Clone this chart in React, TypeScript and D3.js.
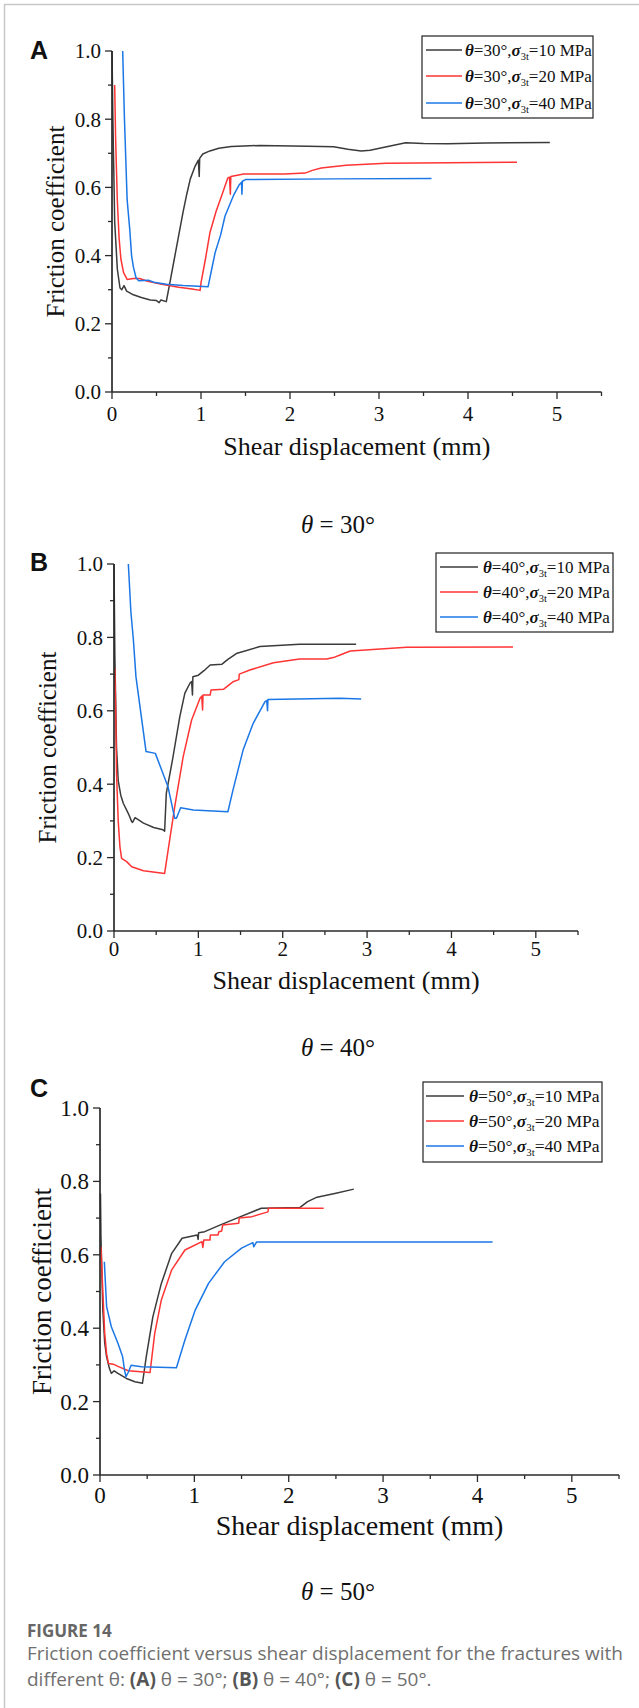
import React from "react";
import * as d3 from "d3";

type Pt = [number, number];

// panel angles, confining stresses, series colours
const angles = [30, 40, 50];
const pressures = [10, 20, 40];
const colors = ["#3b3b3b", "#ff3434", "#1b77e6"];
const panelLetters = ["A", "B", "C"];
const xTicks = [0, 1, 2, 3, 4, 5];
const yTicks = [0, 0.2, 0.4, 0.6, 0.8, 1.0];

// theta = 30
const a30_10: Pt[] = [[0, 1.0], [0.01, 0.8], [0.03, 0.5], [0.06, 0.36], [0.09, 0.305], [0.11, 0.3], [0.135, 0.312], [0.165, 0.296], [0.24, 0.285], [0.33, 0.277], [0.43, 0.27], [0.5, 0.268], [0.53, 0.262], [0.55, 0.27], [0.61, 0.265], [0.65, 0.32], [0.7, 0.39], [0.75, 0.46], [0.8, 0.53], [0.84, 0.58], [0.88, 0.625], [0.93, 0.66], [0.97, 0.68], [0.98, 0.632], [0.985, 0.685], [1.02, 0.698], [1.1, 0.707], [1.2, 0.715], [1.34, 0.72], [1.66, 0.723], [2.2, 0.721], [2.49, 0.719], [2.65, 0.712], [2.8, 0.707], [2.9, 0.709], [3.1, 0.72], [3.3, 0.731], [3.5, 0.729], [3.77, 0.728], [4.2, 0.73], [4.92, 0.732]];
const a30_20: Pt[] = [[0.03, 0.9], [0.04, 0.75], [0.06, 0.56], [0.08, 0.45], [0.1, 0.39], [0.13, 0.35], [0.17, 0.33], [0.24, 0.333], [0.31, 0.333], [0.4, 0.325], [0.56, 0.316], [0.75, 0.307], [0.9, 0.302], [0.99, 0.298], [1.0, 0.32], [1.05, 0.39], [1.1, 0.467], [1.17, 0.53], [1.23, 0.574], [1.3, 0.627], [1.32, 0.63], [1.33, 0.58], [1.335, 0.632], [1.48, 0.639], [1.94, 0.639], [2.17, 0.642], [2.25, 0.65], [2.35, 0.657], [2.63, 0.665], [3.08, 0.671], [4.55, 0.674]];
const a30_40: Pt[] = [[0.12, 1.0], [0.14, 0.8], [0.17, 0.564], [0.2, 0.475], [0.22, 0.4], [0.24, 0.367], [0.27, 0.335], [0.3, 0.326], [0.41, 0.328], [0.47, 0.322], [0.61, 0.316], [0.8, 0.312], [1.08, 0.309], [1.12, 0.36], [1.16, 0.41], [1.22, 0.46], [1.27, 0.516], [1.37, 0.579], [1.43, 0.608], [1.455, 0.615], [1.46, 0.58], [1.465, 0.618], [1.5, 0.623], [2.5, 0.625], [3.59, 0.626]];

// theta = 40
const a40_10: Pt[] = [[0, 1.0], [0.01, 0.75], [0.03, 0.5], [0.05, 0.41], [0.08, 0.37], [0.11, 0.348], [0.17, 0.32], [0.21, 0.298], [0.22, 0.296], [0.25, 0.309], [0.35, 0.294], [0.47, 0.282], [0.58, 0.276], [0.6, 0.272], [0.62, 0.375], [0.7, 0.475], [0.78, 0.584], [0.84, 0.648], [0.9, 0.675], [0.92, 0.68], [0.93, 0.643], [0.935, 0.693], [1.0, 0.697], [1.07, 0.71], [1.14, 0.725], [1.28, 0.727], [1.35, 0.74], [1.45, 0.756], [1.73, 0.775], [2.2, 0.781], [2.87, 0.781]];
const a40_20: Pt[] = [[0.01, 0.715], [0.02, 0.6], [0.03, 0.43], [0.05, 0.3], [0.07, 0.23], [0.09, 0.198], [0.15, 0.189], [0.21, 0.175], [0.35, 0.164], [0.6, 0.157], [0.66, 0.248], [0.72, 0.339], [0.82, 0.475], [0.92, 0.575], [1.02, 0.634], [1.04, 0.64], [1.05, 0.602], [1.055, 0.643], [1.14, 0.643], [1.15, 0.657], [1.3, 0.659], [1.41, 0.679], [1.48, 0.685], [1.485, 0.7], [1.61, 0.711], [1.89, 0.731], [2.2, 0.741], [2.52, 0.741], [2.6, 0.745], [2.68, 0.752], [2.8, 0.763], [3.47, 0.773], [4.73, 0.774]];
const a40_40: Pt[] = [[0.17, 1.0], [0.2, 0.87], [0.23, 0.793], [0.26, 0.693], [0.38, 0.489], [0.49, 0.484], [0.64, 0.393], [0.72, 0.307], [0.74, 0.307], [0.79, 0.336], [0.94, 0.33], [1.35, 0.325], [1.41, 0.384], [1.53, 0.493], [1.65, 0.566], [1.79, 0.625], [1.81, 0.628], [1.82, 0.6], [1.825, 0.631], [2.68, 0.634], [2.93, 0.632]];

// theta = 50
const a50_10: Pt[] = [[0.005, 0.767], [0.01, 0.65], [0.03, 0.45], [0.05, 0.36], [0.07, 0.322], [0.1, 0.29], [0.12, 0.277], [0.15, 0.284], [0.19, 0.277], [0.28, 0.263], [0.37, 0.254], [0.45, 0.25], [0.49, 0.322], [0.56, 0.431], [0.65, 0.522], [0.76, 0.604], [0.87, 0.645], [1.03, 0.654], [1.04, 0.642], [1.045, 0.66], [1.11, 0.663], [1.27, 0.681], [1.47, 0.702], [1.71, 0.727], [2.12, 0.729], [2.2, 0.745], [2.3, 0.757], [2.5, 0.768], [2.69, 0.779]];
const a50_20: Pt[] = [[0.01, 0.622], [0.03, 0.5], [0.05, 0.386], [0.07, 0.33], [0.09, 0.304], [0.14, 0.302], [0.19, 0.296], [0.3, 0.284], [0.53, 0.279], [0.58, 0.386], [0.65, 0.477], [0.76, 0.559], [0.9, 0.613], [1.08, 0.636], [1.09, 0.62], [1.1, 0.64], [1.165, 0.64], [1.17, 0.654], [1.25, 0.654], [1.26, 0.663], [1.29, 0.665], [1.3, 0.681], [1.47, 0.686], [1.475, 0.7], [1.61, 0.704], [1.78, 0.717], [1.785, 0.727], [2.37, 0.727]];
const a50_40: Pt[] = [[0.046, 0.581], [0.07, 0.459], [0.12, 0.404], [0.19, 0.359], [0.24, 0.322], [0.26, 0.286], [0.275, 0.268], [0.3, 0.28], [0.33, 0.299], [0.44, 0.295], [0.81, 0.292], [0.9, 0.368], [1.01, 0.45], [1.15, 0.522], [1.32, 0.581], [1.5, 0.618], [1.62, 0.633], [1.63, 0.622], [1.66, 0.635], [4.16, 0.635]];

const panelSeries = [
  [a30_10, a30_20, a30_40],
  [a40_10, a40_20, a40_40],
  [a50_10, a50_20, a50_40],
];

// layout of each panel (pixels)
const layouts = [
  { left: 112, right: 601.5, top: 51, bottom: 392, fs: 21, tfs: 25, yTitleX: 64, tickY: 421, xTitleY: 455, thetaY: 533, labelY: 59,
    legend: { x0: 422, y0: 36, x1: 593, y1: 118, rows: [50, 76, 103], l0: 426, l1: 462, tx: 465, fs: 17 } },
  { left: 114, right: 578, top: 564, bottom: 931, fs: 21, tfs: 25, yTitleX: 56, tickY: 956, xTitleY: 989, thetaY: 1056, labelY: 571,
    legend: { x0: 436, y0: 553, x1: 613, y1: 632, rows: [567, 592, 617], l0: 440, l1: 478, tx: 483, fs: 17 } },
  { left: 100, right: 619, top: 1108, bottom: 1475, fs: 23, tfs: 27, yTitleX: 51, tickY: 1503, xTitleY: 1535, thetaY: 1600, labelY: 1097,
    legend: { x0: 423, y0: 1082, x1: 602, y1: 1162, rows: [1096, 1121, 1146], l0: 426, l1: 464, tx: 469, fs: 17.5 } },
];

const serif = "'Liberation Serif', 'Times New Roman', serif";
const axisColor = "#2a2a2a";

function Panel({ idx }: { idx: number }) {
  const L = layouts[idx];
  const x = d3.scaleLinear().domain([0, 5.5]).range([L.left, L.right]);
  const y = d3.scaleLinear().domain([0, 1]).range([L.bottom, L.top]);
  const line = d3.line<Pt>().x((d) => x(d[0])).y((d) => y(d[1]));
  const xMinor = d3.range(0, 5.51, 0.5);
  const yMinor = d3.range(0, 1.001, 0.1);
  const cx = (L.left + L.right) / 2;
  const cy = (L.top + L.bottom) / 2;
  const lg = L.legend;
  return (
    <g>
      <text x={30} y={L.labelY} fontFamily="Arial, 'Liberation Sans', sans-serif" fontWeight="bold" fontSize={25} fill="#111">
        {panelLetters[idx]}
      </text>
      {panelSeries[idx].map((s, i) => (
        <path key={i} d={line(s) || ""} fill="none" stroke={colors[i]} strokeWidth={1.5} strokeLinejoin="round" />
      ))}
      {/* axes */}
      <line x1={x(0)} x2={x(5.5)} y1={y(0)} y2={y(0)} stroke={axisColor} strokeWidth={1.7} />
      <line x1={x(0)} x2={x(0)} y1={y(0)} y2={y(1)} stroke={axisColor} strokeWidth={1.7} />
      {xMinor.map((t) => (
        <line key={"xt" + t} x1={x(t)} x2={x(t)} y1={y(0)} y2={y(0) + (Number.isInteger(t) ? 7 : 4)} stroke={axisColor} strokeWidth={1.3} />
      ))}
      {yMinor.map((t) => (
        <line key={"yt" + t} x1={x(0)} x2={x(0) - (Math.round(t * 10) % 2 === 0 ? 7 : 4)} y1={y(t)} y2={y(t)} stroke={axisColor} strokeWidth={1.3} />
      ))}
      {xTicks.map((t) => (
        <text key={"xl" + t} x={x(t)} y={L.tickY} textAnchor="middle" fontFamily={serif} fontSize={L.fs} fill="#111">
          {t}
        </text>
      ))}
      {yTicks.map((t) => (
        <text key={"yl" + t} x={x(0) - 11} y={y(t)} dy="0.35em" textAnchor="end" fontFamily={serif} fontSize={L.fs} fill="#111">
          {t.toFixed(1)}
        </text>
      ))}
      <text x={cx} y={L.xTitleY} textAnchor="middle" fontFamily={serif} fontSize={L.tfs + 1} fill="#111">
        Shear displacement (mm)
      </text>
      <text transform={`translate(${L.yTitleX},${cy}) rotate(-90)`} textAnchor="middle" fontFamily={serif} fontSize={L.tfs} fill="#111">
        Friction coefficient
      </text>
      <text x={338} y={L.thetaY} textAnchor="middle" fontFamily={serif} fontSize={25} fill="#111">
        <tspan fontStyle="italic">θ</tspan> = {angles[idx]}°
      </text>
      {/* legend */}
      <rect x={lg.x0} y={lg.y0} width={lg.x1 - lg.x0} height={lg.y1 - lg.y0} fill="#fff" stroke="#222" strokeWidth={1.2} />
      {pressures.map((p, i) => (
        <g key={"lg" + p}>
          <line x1={lg.l0} x2={lg.l1} y1={lg.rows[i]} y2={lg.rows[i]} stroke={colors[i]} strokeWidth={1.5} />
          <text x={lg.tx} y={lg.rows[i] + 6} fontFamily={serif} fontSize={lg.fs} fill="#111">
            <tspan fontWeight="bold" fontStyle="italic">θ</tspan>
            <tspan>={angles[idx]}°,</tspan>
            <tspan fontWeight="bold" fontStyle="italic">σ</tspan>
            <tspan fontSize={lg.fs * 0.62} dy={4}>3t</tspan>
            <tspan dy={-4}>={p} MPa</tspan>
          </text>
        </g>
      ))}
    </g>
  );
}

export default function App() {
  const sans = "'Open Sans', 'Noto Sans', sans-serif";
  return (
    <svg width={639} height={1708} style={{ position: "absolute", left: 0, top: 0, background: "#fff" }}>
      <rect x={0} y={0} width={639} height={1708} fill="#fff" />
      <line x1={4} x2={639} y1={4.5} y2={4.5} stroke="#c8c8c8" strokeWidth={1.5} />
      <line x1={4.5} x2={4.5} y1={4} y2={1708} stroke="#c8c8c8" strokeWidth={1.5} />
      {[0, 1, 2].map((i) => (
        <Panel key={i} idx={i} />
      ))}
      <text x={27} y={1637} fontFamily={sans} fontSize={17} fontWeight="bold" fill="#666">
        FIGURE 14
      </text>
      <text x={27} y={1660} fontFamily={sans} fontSize={19} fill="#707070">
        Friction coefficient versus shear displacement for the fractures with
      </text>
      <text x={27} y={1686} fontFamily={sans} fontSize={19} fill="#707070">
        different θ: <tspan fontWeight="bold" fill="#555">(A)</tspan> θ = 30°; <tspan fontWeight="bold" fill="#555">(B)</tspan> θ = 40°;{" "}
        <tspan fontWeight="bold" fill="#555">(C)</tspan> θ = 50°.
      </text>
    </svg>
  );
}
